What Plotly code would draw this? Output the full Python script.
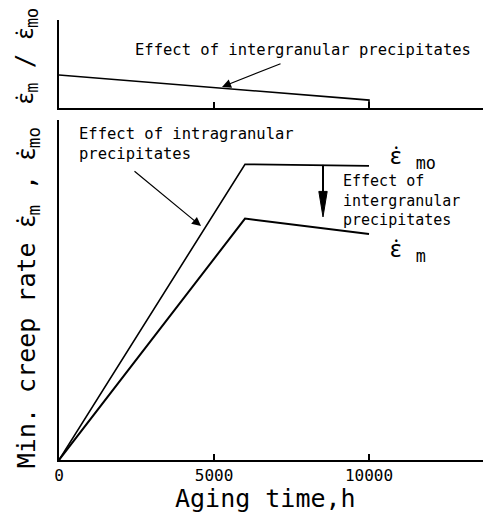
import plotly.graph_objects as go

# ---- data ----
aging_top = [0, 10000, 10000]
ratio_m_mo = [0.375, 0.09, 0.0]

aging_bottom = [0, 6000, 10000]
rate_mo = [0.0, 0.87, 0.865]
rate_m = [0.0, 0.71, 0.665]

tick_vals = [0, 5000, 10000]
tick_text = ["0", "5000", "10000"]

FONT = "DejaVu Sans Mono"
X_MAX = 13935
EPS = "<span style=\"font-family:Noto Sans\">ε̇</span>"

fig = go.Figure()

# bottom panel
fig.add_trace(go.Scatter(x=aging_bottom, y=rate_mo, mode="lines",
                         line=dict(color="black", width=1.6), xaxis="x", yaxis="y",
                         showlegend=False, hoverinfo="skip"))
fig.add_trace(go.Scatter(x=aging_bottom, y=rate_m, mode="lines",
                         line=dict(color="black", width=2.0), xaxis="x", yaxis="y",
                         showlegend=False, hoverinfo="skip"))
# top panel
fig.add_trace(go.Scatter(x=aging_top, y=ratio_m_mo, mode="lines",
                         line=dict(color="black", width=1.6), xaxis="x2", yaxis="y2",
                         showlegend=False, hoverinfo="skip"))

axis_common = dict(showgrid=False, zeroline=False, showline=True, linecolor="black",
                   linewidth=2)

fig.update_layout(
    width=491, height=514,
    margin=dict(l=51, r=8, t=12, b=62),
    paper_bgcolor="white", plot_bgcolor="white",
    font=dict(family=FONT, color="black"),
    xaxis=dict(**axis_common, domain=[0, 1], range=[0, X_MAX], anchor="y",
               tickvals=tick_vals, ticktext=tick_text, ticks="inside", ticklen=6,
               tickwidth=1.5, tickcolor="black", tickfont=dict(size=16, family=FONT)),
    yaxis=dict(**axis_common, domain=[0, 0.7727], range=[0, 1], anchor="x",
               showticklabels=False, ticks=""),
    xaxis2=dict(**axis_common, domain=[0, 1], range=[0, X_MAX], anchor="y2",
                tickvals=tick_vals, ticks="inside", ticklen=6, tickwidth=1.5,
                tickcolor="black", showticklabels=False),
    yaxis2=dict(**axis_common, domain=[0.8, 1.0], range=[0, 1], anchor="x2",
                showticklabels=False, ticks=""),
)

# down arrow (shaft + long narrow filled head)
ARROW_X = 8516
fig.add_shape(type="line", xref="x", yref="y", x0=ARROW_X, x1=ARROW_X, y0=0.868, y1=0.78,
              line=dict(color="black", width=2))
fig.add_shape(type="path", xref="x", yref="y",
              path=f"M {ARROW_X-135},0.79 L {ARROW_X+135},0.79 L {ARROW_X},0.715 Z",
              fillcolor="black", line=dict(color="black", width=1))

ann = []
# top panel text + arrow
ann.append(dict(xref="x2", yref="y2", x=2387, y=0.66, xanchor="left", yanchor="middle",
                text="Effect of intergranular precipitates", showarrow=False,
                font=dict(size=15.5, family=FONT)))
ann.append(dict(xref="x2", yref="y2", x=5258, y=0.24, axref="x2", ayref="y2",
                ax=7194, ay=0.51, text="", showarrow=True, arrowhead=2,
                arrowsize=1.5, arrowwidth=1.2, arrowcolor="black"))
# bottom panel: intragranular
ann.append(dict(xref="x", yref="y", x=581, y=0.929, xanchor="left", yanchor="middle",
                align="left", text="Effect of intragranular<br>precipitates",
                showarrow=False, font=dict(size=15.5, family=FONT)))
ann.append(dict(xref="x", yref="y", x=4581, y=0.688, axref="x", ayref="y",
                ax=2387, ay=0.853, text="", showarrow=True, arrowhead=2,
                arrowsize=1.5, arrowwidth=1.2, arrowcolor="black"))
ann.append(dict(xref="x", yref="y", x=9097, y=0.762, xanchor="left", yanchor="middle",
                align="left", text="Effect of<br>intergranular<br>precipitates",
                showarrow=False, font=dict(size=15, family=FONT)))
# curve labels
ann.append(dict(xref="x", yref="y", x=10613, y=0.897, xanchor="left", yanchor="middle",
                text=EPS + " <sub>mo</sub>", showarrow=False, font=dict(size=24, family=FONT)))
ann.append(dict(xref="x", yref="y", x=10613, y=0.622, xanchor="left", yanchor="middle",
                text=EPS + " <sub>m</sub>", showarrow=False, font=dict(size=24, family=FONT)))
# axis titles
ann.append(dict(xref="paper", yref="paper", x=0.477, y=-0.0864, xanchor="center",
                yanchor="middle", text="Aging time,h", showarrow=False,
                font=dict(size=25, family=FONT)))
ann.append(dict(xref="paper", yref="paper", x=-0.0764, y=0.37, xanchor="center",
                yanchor="middle", textangle=-90,
                text="Min. creep rate " + EPS + "<sub>m</sub> , " + EPS + "<sub>mo</sub>",
                showarrow=False, font=dict(size=25, family=FONT)))
ann.append(dict(xref="paper", yref="paper", x=-0.081, y=0.918, xanchor="center",
                yanchor="middle", textangle=-90,
                text=EPS + "<sub>m</sub> / " + EPS + "<sub>mo</sub>", showarrow=False,
                font=dict(size=24, family=FONT)))
fig.update_layout(annotations=ann)

fig.write_html("out.html")
